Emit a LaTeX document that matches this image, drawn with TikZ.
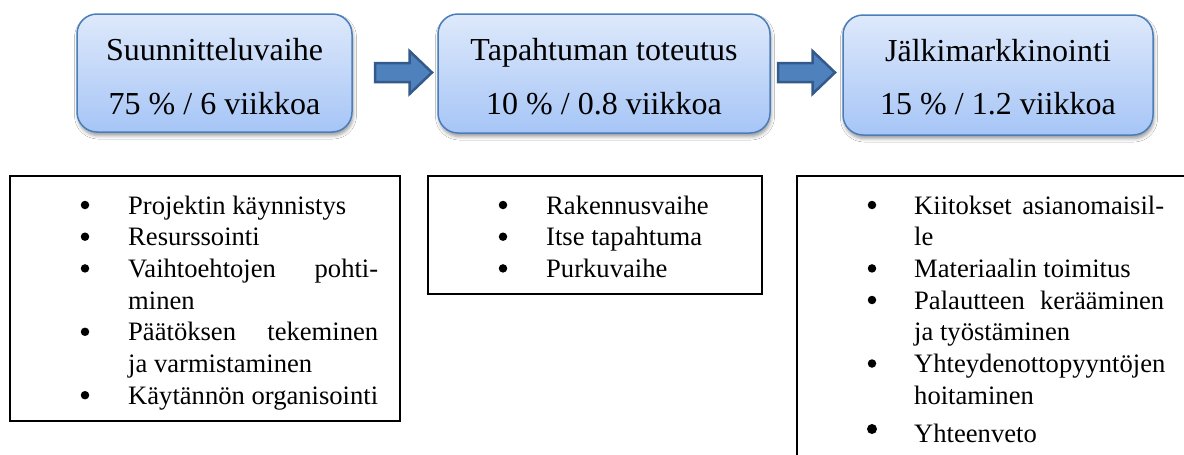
\documentclass[tikz,border=0pt]{standalone}
\usepackage{fontspec}
\setmainfont{Liberation Serif}
\usetikzlibrary{shadows.blur}

\definecolor{phasetop}{RGB}{222,233,251}
\definecolor{phasebot}{RGB}{166,197,246}
\definecolor{phaseedge}{RGB}{74,126,187}
\definecolor{arrowfill}{RGB}{79,129,189}
\definecolor{arrowedge}{RGB}{52,90,140}

\begin{document}
\begin{tikzpicture}[x=1pt,y=-1pt,
  phase/.style={draw=phaseedge, line width=1.5pt, rounded corners=20pt,
    top color=phasetop, bottom color=phasebot, inner sep=0pt,
    blur shadow={shadow xshift=1pt, shadow yshift=-3.5pt,
      shadow blur radius=3.5pt, shadow opacity=40}},
  title/.style={anchor=base, inner sep=0pt, font=\fontsize{32}{38}\selectfont},
  listbox/.style={draw=black, line width=1.8pt, inner sep=0pt},
  item/.style={anchor=base west, inner sep=0pt, font=\fontsize{26.6}{31}\selectfont},
  dot/.style={circle, fill=black, inner sep=0pt, minimum size=8.5pt},
  bigdot/.style={circle, fill=black, inner sep=0pt, minimum size=10pt},
  blockarrow/.style={fill=arrowfill, draw=arrowedge, line width=2.5pt, line join=miter}
]
\clip (0,0) rectangle (1184,455);
\fill[white] (0,0) rectangle (1184,455);

% phase boxes
\node[phase, minimum width=275pt, minimum height=118pt] (p1) at (214.5,73) {};
\node[phase, minimum width=332pt, minimum height=119pt] (p2) at (604,73.5) {};
\node[phase, minimum width=310pt, minimum height=120pt] (p3) at (998,75) {};

\node[title] (t1a) at (214.5,60) {Suunnitteluvaihe};
\node[title] (t1b) at (214.5,114) {75 \% / 6 viikkoa};
\node[title] (t2a) at (604,60) {Tapahtuman toteutus};
\node[title] (t2b) at (604,114) {10 \% / 0.8 viikkoa};
\node[title] (t3a) at (998,61) {Jälkimarkkinointi};
\node[title] (t3b) at (998,114) {15 \% / 1.2 viikkoa};

% block arrows between the phases
\draw[blockarrow] (375,63) -- (409.5,63) -- (409.5,51) -- (432,72.5)
  -- (409.5,94) -- (409.5,82) -- (375,82) -- cycle;
\draw[blockarrow] (778,63) -- (812.5,63) -- (812.5,51) -- (835,72.5)
  -- (812.5,94) -- (812.5,82) -- (778,82) -- cycle;

% task lists
\node[listbox, minimum width=390pt, minimum height=245pt] (l1) at (205,298.5) {};
\node[listbox, minimum width=334pt, minimum height=118pt] (l2) at (595,235) {};
\node[listbox, minimum width=403pt, minimum height=294pt] (l3) at (998.5,323) {};

% planning
\node[dot] (a1) at (85,205) {};
\node[item] (a1t) at (128,214) {Projektin käynnistys};
\node[dot] (a2) at (85,236.7) {};
\node[item] (a2t) at (128,245.7) {Resurssointi};
\node[dot] (a3) at (85,268.4) {};
\node[item] (a3t) at (128,277.4) {\hbox to 250pt{Vaihtoehtojen\hfill pohti-}};
\node[item] (a3u) at (128,309) {minen};
\node[dot] (a4) at (85,331.8) {};
\node[item] (a4t) at (128,340.8) {\hbox to 250pt{Päätöksen\hfill tekeminen}};
\node[item] (a4u) at (128,372.5) {ja varmistaminen};
\node[dot] (a5) at (85,395.2) {};
\node[item] (a5t) at (128,404.2) {Käytännön organisointi};

% implementation
\node[dot] (b1) at (503,205) {};
\node[item] (b1t) at (546,214) {Rakennusvaihe};
\node[dot] (b2) at (503,236.7) {};
\node[item] (b2t) at (546,245.7) {Itse tapahtuma};
\node[dot] (b3) at (503,268.4) {};
\node[item] (b3t) at (546,277.4) {Purkuvaihe};

% follow-up
\node[dot] (c1) at (872,205) {};
\node[item] (c1t) at (914,214) {\hbox to 250pt{Kiitokset\hfill asianomaisil-}};
\node[item] (c1u) at (914,245.7) {le};
\node[dot] (c2) at (872,268.4) {};
\node[item] (c2t) at (914,277.4) {Materiaalin toimitus};
\node[dot] (c3) at (872,300) {};
\node[item] (c3t) at (914,309) {\hbox to 250pt{Palautteen\hfill kerääminen}};
\node[item] (c3u) at (914,340.8) {ja työstäminen};
\node[dot] (c4) at (872,363.5) {};
\node[item] (c4t) at (914,372.5) {Yhteydenottopyyntöjen};
\node[item] (c4u) at (914,404.2) {hoitaminen};
\node[bigdot] (c5) at (872,429) {};
\node[item] (c5t) at (914,442) {Yhteenveto};
\end{tikzpicture}
\end{document}
